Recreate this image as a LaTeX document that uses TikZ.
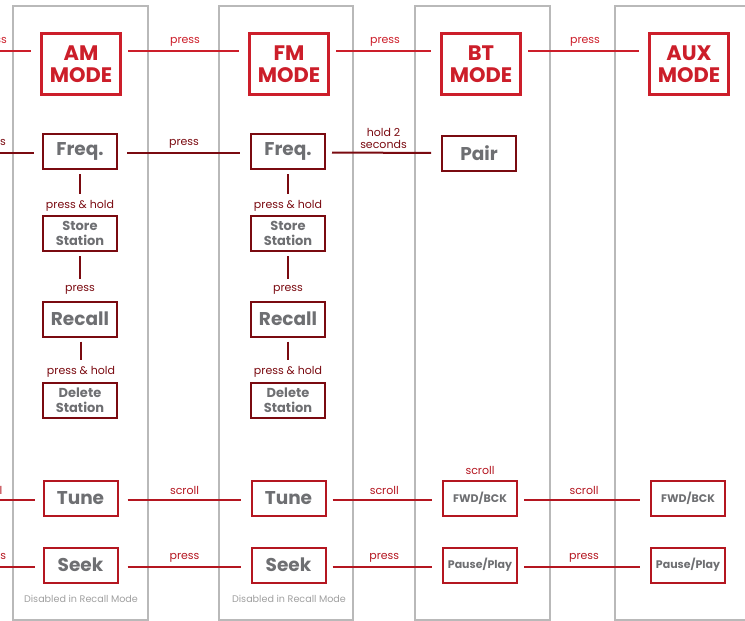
\documentclass[tikz,border=0pt]{standalone}
\usepackage{fontspec}
\setmainfont{Poppins}
\definecolor{modered}{RGB}{204,30,42}
\definecolor{midred}{RGB}{180,22,32}
\definecolor{darkred}{RGB}{122,10,16}
\definecolor{txtgray}{RGB}{110,111,114}
\definecolor{colgray}{RGB}{185,185,185}
\definecolor{lightgray}{RGB}{160,160,160}
\begin{document}
\begin{tikzpicture}[x=1pt,y=-1pt,
  colbox/.style={draw=colgray, line width=1.5pt},
  modebox/.style={draw=modered, line width=3pt, minimum width=79pt, minimum height=61pt, inner sep=0pt, align=center, text=modered, font=\bfseries\fontsize{21}{22}\selectfont},
  funcbox/.style={draw=darkred, line width=2pt, minimum width=74pt, minimum height=35pt, inner sep=0pt, align=center, text=txtgray, font=\bfseries\fontsize{18.5}{20}\selectfont},
  smallfunc/.style={funcbox, font=\bfseries\fontsize{13}{15}\selectfont},
  redbox/.style={funcbox, draw=midred},
  redsmall/.style={redbox, font=\bfseries\fontsize{11}{12}\selectfont},
  topline/.style={draw=modered, line width=1.5pt, shorten <=6pt, shorten >=9pt},
  darkline/.style={draw=darkred, line width=2pt, shorten <=9pt, shorten >=10pt},
  redline/.style={draw=midred, line width=2pt, shorten <=9pt, shorten >=10pt},
  vline/.style={draw=darkred, line width=2pt, shorten <=4pt, shorten >=5pt},
  lbl/.style={inner sep=1pt, font=\fontsize{11}{12}\selectfont},
  toplbl/.style={lbl, text=modered, above=3pt},
  darklbl/.style={lbl, text=darkred},
  redlbl/.style={lbl, text=midred},
  note/.style={inner sep=0pt, text=lightgray, font=\fontsize{9.6}{10}\selectfont}
]
\clip (0,0) rectangle (745,621);
% columns
\draw[colbox] (13,6) rectangle (148,620);
\draw[colbox] (219,6) rectangle (353,620);
\draw[colbox] (415,6) rectangle (550,620);
\draw[colbox] (615,6) rectangle (780,620);

% free ends on the left
\coordinate (lm) at (-56,51);
\coordinate (lf) at (-60,153);
\coordinate (lt) at (-67,500);
\coordinate (ls) at (-60,567);

% mode boxes
\node[modebox] (am) at (81,64) {AM\\MODE};
\node[modebox] (fm) at (289,64) {FM\\MODE};
\node[modebox] (bt) at (481,64) {BT\\MODE};
\node[modebox] (aux) at (689,64) {AUX\\MODE};

% column 1
\node[funcbox] (f1) at (80,151.5) {Freq.};
\node[darklbl] (ph1) at (80,206) {press \& hold};
\node[smallfunc] (st1) at (80,233.5) {Store\\Station};
\node[darklbl] (pr1) at (80,290) {press};
\node[funcbox] (rc1) at (80,319) {Recall};
\node[darklbl] (pd1) at (81,372) {press \& hold};
\node[smallfunc] (de1) at (80,400.5) {Delete\\Station};
\node[redbox] (tu1) at (80.5,498.5) {Tune};
\node[redbox] (se1) at (80.5,565) {Seek};
\node[note] (dis1) at (81,598.5) {Disabled in Recall Mode};

% column 2
\node[funcbox] (f2) at (288,151.5) {Freq.};
\node[darklbl] (ph2) at (288,206) {press \& hold};
\node[smallfunc] (st2) at (288,233.5) {Store\\Station};
\node[darklbl] (pr2) at (288,290) {press};
\node[funcbox] (rc2) at (288,319) {Recall};
\node[darklbl] (pd2) at (288,372) {press \& hold};
\node[smallfunc] (de2) at (288,400.5) {Delete\\Station};
\node[redbox] (tu2) at (288.5,498.5) {Tune};
\node[redbox] (se2) at (288.5,565) {Seek};
\node[note] (dis2) at (289,598.5) {Disabled in Recall Mode};

% column 3
\node[funcbox] (pair) at (479,153) {Pair};
\node[redlbl] (sc3) at (480,470) {scroll};
\node[redsmall] (fw3) at (480,498.5) {FWD/BCK};
\node[redsmall] (pp3) at (480,565) {Pause/Play};

% column 4
\node[redsmall] (fw4) at (688,498.5) {FWD/BCK};
\node[redsmall] (pp4) at (688,565) {Pause/Play};

% top row connectors
\draw[topline] (lm) -- ([yshift=13pt]am.west) node[toplbl, midway] {press};
\draw[topline] ([yshift=13pt]am.east) -- ([yshift=13pt]fm.west) node[toplbl, midway] {press};
\draw[topline] ([yshift=13pt]fm.east) -- ([yshift=13pt]bt.west) node[toplbl, midway] {press};
\draw[topline] ([yshift=13pt]bt.east) -- ([yshift=13pt]aux.west) node[toplbl, midway] {press};

% freq row
\draw[darkline, shorten >=8pt] (lf) -- ([yshift=-1.5pt]f1.west) node[darklbl, midway, above=3pt] {press};
\draw[darkline] ([yshift=-1.5pt]f1.east) -- ([yshift=-1.5pt]f2.west) node[darklbl, midway, above=3pt] {press};
\draw[darkline, shorten <=6pt] ([yshift=-1pt]f2.east) -- ([yshift=0pt]pair.west) node[darklbl, midway, above=2pt, align=center, font=\fontsize{11}{12}\selectfont] {hold 2\\seconds};

% vertical chains
\draw[vline] (f1.south -| ph1) -- (ph1);
\draw[vline] (st1.south -| pr1) -- (pr1);
\draw[vline] (rc1.south -| pd1) -- (pd1);
\draw[vline] (f2.south -| ph2) -- (ph2);
\draw[vline] (st2.south -| pr2) -- (pr2);
\draw[vline] (rc2.south -| pd2) -- (pd2);

% tune row
\draw[redline, shorten >=8pt] (lt) -- ([yshift=-1.5pt]tu1.west) node[redlbl, midway, above=3pt] {scroll};
\draw[redline] ([yshift=-1.5pt]tu1.east) -- ([yshift=-1.5pt]tu2.west) node[redlbl, midway, above=3pt] {scroll};
\draw[redline, shorten <=6pt] ([yshift=-1.5pt]tu2.east) -- ([yshift=-1.5pt]fw3.west) node[redlbl, midway, above=3pt] {scroll};
\draw[redline, shorten <=6pt] ([yshift=-1.5pt]fw3.east) -- ([yshift=-1.5pt]fw4.west) node[redlbl, midway, above=3pt] {scroll};

% seek row
\draw[redline, shorten >=8pt] (ls) -- ([yshift=-2pt]se1.west) node[redlbl, midway, above=3pt] {press};
\draw[redline] ([yshift=-2pt]se1.east) -- ([yshift=-2pt]se2.west) node[redlbl, midway, above=3pt] {press};
\draw[redline, shorten <=6pt] ([yshift=-2pt]se2.east) -- ([yshift=-2pt]pp3.west) node[redlbl, midway, above=3pt] {press};
\draw[redline, shorten <=6pt] ([yshift=-2pt]pp3.east) -- ([yshift=-2pt]pp4.west) node[redlbl, midway, above=3pt] {press};
\end{tikzpicture}
\end{document}
